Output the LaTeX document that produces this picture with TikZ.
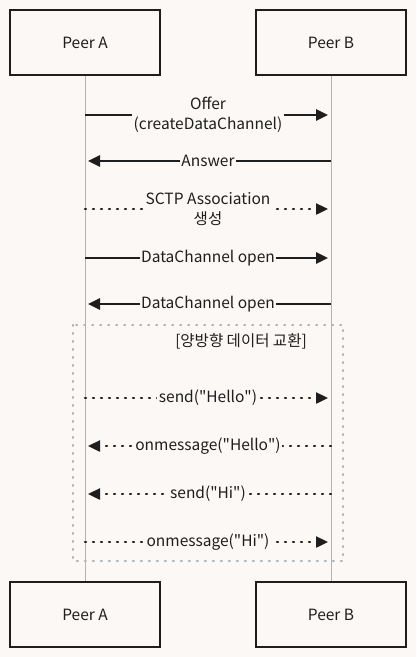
\documentclass[tikz,border=0pt]{standalone}
\usepackage{fontspec}
\setmainfont{Noto Sans CJK KR}
\usetikzlibrary{arrows.meta}

\definecolor{paper}{HTML}{FCF8F5}
\definecolor{ink}{HTML}{1E1E1E}
\definecolor{lifeline}{HTML}{B4B4B4}
\definecolor{framegray}{HTML}{A8B0B8}

\newcommand{\qt}{\textquotedbl}

\tikzset{
  peer/.style={draw=ink, line width=1.6pt, fill=paper, minimum width=150pt, minimum height=65pt, text=ink, font=\fontsize{15.5}{17}\selectfont},
  msg/.style={draw=ink, line width=2.6pt, shorten >=3pt, -{Triangle[length=12pt,width=11pt]}},
  msgdot/.style={msg, line width=2.4pt, dash pattern=on 1pt off 7pt, line cap=round},
  lbl/.style={fill=paper, inner sep=1.5pt, align=center, text=ink, font=\fontsize{15.5}{20}\selectfont},
}

\begin{document}
\begin{tikzpicture}[x=1pt, y=-1pt]

  \useasboundingbox[fill=paper] (0,0) rectangle (416,657);

  % participants
  \node[peer] (peerA) at (85,42.5) {Peer A};
  \node[peer] (peerB) at (331,42.5) {Peer B};
  \node[peer] (peerAend) at (85,614.5) {Peer A};
  \node[peer] (peerBend) at (331,614.5) {Peer B};

  % loop frame
  \draw[framegray, line width=2.4pt, dash pattern=on 0.8pt off 7.2pt, line cap=round] (73,325) rectangle (343,561);
  \node[text=ink, font=\fontsize{15.5}{17}\selectfont] (looptitle) at (241,341) {[양방향 데이터 교환]};

  % lifelines
  \draw[lifeline, line width=1pt] (peerA.south) -- (peerAend.north);
  \draw[lifeline, line width=1pt] (peerB.south) -- (peerBend.north);

  % message anchors on the lifelines
  \foreach \n/\y in {1/115,2/161,3/209,4/258,5/304,6/398,7/446,8/494,9/542}{
    \coordinate (a\n) at (85,\y);
    \coordinate (b\n) at (331,\y);
  }

  % messages
  \draw[msg] (a1) -- node[lbl] {Offer\\(createDataChannel)} (b1);
  \draw[msg] (b2) -- node[lbl] {Answer} (a2);
  \draw[msgdot] (a3) -- node[lbl] {SCTP Association\\생성} (b3);
  \draw[msg] (a4) -- node[lbl] {DataChannel open} (b4);
  \draw[msg] (b5) -- node[lbl] {DataChannel open} (a5);

  \draw[msgdot] (a6) -- node[lbl] {send(\qt Hello\qt)} (b6);
  \draw[msgdot] (b7) -- node[lbl] {onmessage(\qt Hello\qt)} (a7);
  \draw[msgdot] (b8) -- node[lbl] {send(\qt Hi\qt)} (a8);
  \draw[msgdot] (a9) -- node[lbl] {onmessage(\qt Hi\qt)} (b9);

\end{tikzpicture}
\end{document}
